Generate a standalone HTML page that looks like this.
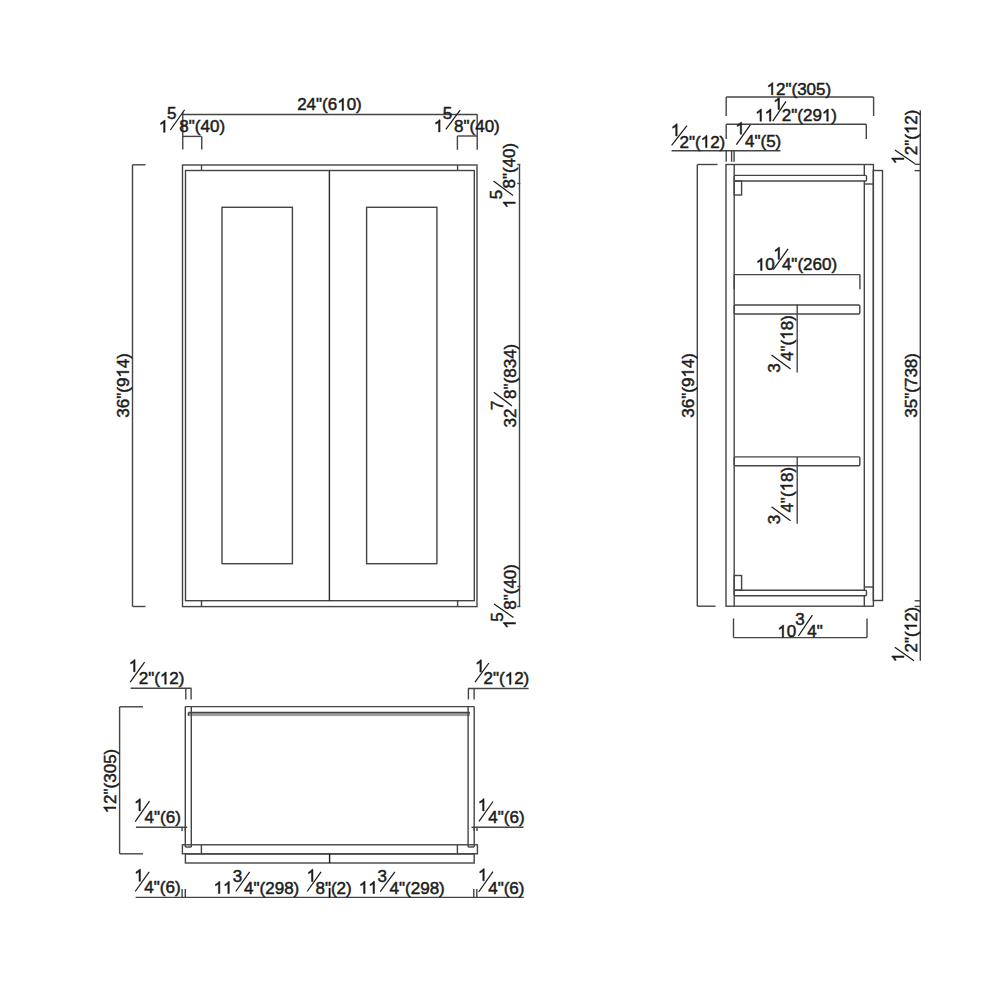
<!DOCTYPE html>
<html><head><meta charset="utf-8"><style>
html,body{margin:0;padding:0;background:#fff;}
svg{display:block;}
text{font-family:"Liberation Sans",sans-serif;font-size:17.0px;fill:#1c1c1c;stroke:#1c1c1c;stroke-width:0.5;font-kerning:none;}
.g1{fill:#1c1c1c;stroke:#1c1c1c;stroke-width:0.5;}
.s{stroke:#1c1c1c;stroke-width:1.25;}
</style></head><body>
<svg width="1000" height="1000" viewBox="0 0 1000 1000">
<defs><path id="g1" class="g1" d="M6.33 0.00H4.84V-9.52C4.48 -9.18 4.01 -8.83 3.43 -8.49C2.85 -8.15 2.32 -7.93 1.85 -7.80V-9.28C2.69 -9.67 3.42 -10.14 4.05 -10.71C4.68 -11.27 5.13 -11.77 5.40 -12.17H6.33Z"/></defs>
<rect width="1000" height="1000" fill="#fff"/>
<g stroke="#444444" stroke-width="1.4" fill="none">
<line x1="182.6" y1="114.5" x2="477.4" y2="114.5"/>
<line x1="182.75" y1="112" x2="182.75" y2="149.5"/>
<line x1="201.75" y1="136.4" x2="201.75" y2="149.5"/>
<line x1="182.75" y1="136.4" x2="201.75" y2="136.4"/>
<line x1="477.2" y1="114.5" x2="477.2" y2="149.8"/>
<line x1="457.4" y1="136" x2="457.4" y2="149.8"/>
<line x1="457.4" y1="136" x2="477.2" y2="136"/>
<rect x="182.5" y="165.0" width="294.5" height="441.6" fill="none"/>
<rect x="185.5" y="170.5" width="288.8" height="430.2" fill="none"/>
<line x1="329.4" y1="170.5" x2="329.4" y2="600.7" stroke="#2a2a2a"/>
<line x1="201.5" y1="165" x2="201.5" y2="170.5"/>
<line x1="201.5" y1="600.7" x2="201.5" y2="606.6"/>
<line x1="457.6" y1="165" x2="457.6" y2="170.5"/>
<line x1="457.6" y1="600.7" x2="457.6" y2="606.6"/>
<rect x="222" y="207.3" width="70.4" height="356.4" fill="none"/>
<rect x="366.6" y="207.3" width="70.3" height="356.4" fill="none"/>
<line x1="132.5" y1="164.8" x2="132.5" y2="606.5"/>
<line x1="132.5" y1="164.8" x2="145.5" y2="164.8"/>
<line x1="132.5" y1="606.5" x2="145.5" y2="606.5"/>
<line x1="519.5" y1="164.5" x2="519.5" y2="606.5"/>
<line x1="517.3" y1="164.5" x2="520.3" y2="164.5"/>
<line x1="517.3" y1="183.5" x2="520.3" y2="183.5"/>
<line x1="517.3" y1="586.5" x2="520.3" y2="586.5"/>
<line x1="517.3" y1="606.5" x2="520.3" y2="606.5"/>
<text x="297.15" y="110.4">24"(6</text>
<use href="#g1" x="337.21" y="110.4"/>
<text x="346.66" y="110.4">0)</text>
<use href="#g1" x="158.75" y="132.3"/>
<text x="167.12" y="119.3">5</text>
<line class="s" x1="170.4" y1="130" x2="184.6" y2="109.75"/>
<text x="179.37" y="132.3">8"(40)</text>
<use href="#g1" x="433.75" y="131.9"/>
<text x="442.72" y="119.2">5</text>
<line class="s" x1="445.8" y1="129.4" x2="460.2" y2="110.2"/>
<text x="454.07" y="131.9">8"(40)</text>
<g transform="translate(128.9,417.65) rotate(-90)"><text x="0" y="0">36"(9</text><use href="#g1" x="40.06" y="0"/><text x="49.51" y="0">4)</text></g>
<g transform="translate(515.3,208.35) rotate(-90)"><use href="#g1" x="0" y="0"/></g>
<g transform="translate(502.0,199.18) rotate(-90)"><text x="0" y="0">5</text></g>
<line class="s" x1="513" y1="195.5" x2="493.5" y2="181"/>
<g transform="translate(515.3,188.53) rotate(-90)"><text x="0" y="0">8"(40)</text></g>
<g transform="translate(515.6,427.45) rotate(-90)"><text x="0" y="0">32</text></g>
<g transform="translate(502.6,410.07) rotate(-90)"><text x="0" y="0">7</text></g>
<line class="s" x1="512" y1="405.9" x2="493.8" y2="392.2"/>
<g transform="translate(515.6,398.93) rotate(-90)"><text x="0" y="0">8"(834)</text></g>
<g transform="translate(515.5,628.85) rotate(-90)"><use href="#g1" x="0" y="0"/></g>
<g transform="translate(502.5,621.68) rotate(-90)"><text x="0" y="0">5</text></g>
<line class="s" x1="513.5" y1="617.5" x2="494" y2="604"/>
<g transform="translate(515.5,609.73) rotate(-90)"><text x="0" y="0">8"(40)</text></g>
<line x1="726.2" y1="97.0" x2="873.6" y2="97.0"/>
<line x1="726.2" y1="97.0" x2="726.2" y2="116"/>
<line x1="873.6" y1="97.0" x2="873.6" y2="116"/>
<line x1="726.2" y1="124.3" x2="866.3" y2="124.3"/>
<line x1="726.2" y1="124.3" x2="726.2" y2="139"/>
<line x1="866.3" y1="124.3" x2="866.3" y2="139"/>
<line x1="671.6" y1="150.8" x2="780.5" y2="150.8"/>
<line x1="726.2" y1="150.8" x2="726.2" y2="161.8"/>
<line x1="731.6" y1="150.8" x2="731.6" y2="161.8"/>
<line x1="734.1" y1="150.8" x2="734.1" y2="161.8"/>
<line x1="697.3" y1="164.5" x2="697.3" y2="606.2"/>
<line x1="697.3" y1="164.5" x2="717.5" y2="164.5"/>
<line x1="697.3" y1="606.2" x2="715.5" y2="606.2"/>
<rect x="726" y="164.5" width="147.4" height="441.7" fill="none"/>
<line x1="734.2" y1="164.5" x2="734.2" y2="606.2"/>
<rect x="734.2" y="175.4" width="132.3" height="5.6" rx="1.2" fill="none"/>
<line x1="864.3" y1="164.5" x2="864.3" y2="175.4"/>
<line x1="864.3" y1="181" x2="864.3" y2="590.2"/>
<line x1="864.3" y1="595.8" x2="864.3" y2="606.2"/>
<line x1="864.3" y1="184" x2="873.3" y2="184"/>
<line x1="864.3" y1="587" x2="873.3" y2="587"/>
<rect x="734.2" y="590.2" width="132.3" height="5.6" rx="1.2" fill="none"/>
<rect x="734.2" y="305" width="125.6" height="9" rx="1.2" fill="none"/>
<rect x="734.2" y="456.9" width="125.6" height="8.8" rx="1.2" fill="none"/>
<rect x="734.2" y="181" width="7.4" height="14" fill="none"/>
<rect x="734.2" y="575.5" width="7.4" height="14.7" fill="none"/>
<rect x="873.3" y="170.5" width="9.2" height="430.0" fill="none"/>
<line x1="734.2" y1="274.6" x2="859.9" y2="274.6"/>
<line x1="859.9" y1="274.6" x2="859.9" y2="289.2"/>
<line x1="734.2" y1="274.6" x2="734.2" y2="289.2"/>
<line x1="797.2" y1="304.4" x2="797.2" y2="372.4"/>
<line x1="797.2" y1="456.9" x2="797.2" y2="523.7"/>
<line x1="733.5" y1="637.6" x2="867" y2="637.6"/>
<line x1="733.5" y1="618.5" x2="733.5" y2="637.6"/>
<line x1="867" y1="618.5" x2="867" y2="637.6"/>
<line x1="920.3" y1="110.3" x2="920.3" y2="660.8"/>
<line x1="914.6" y1="164.3" x2="920.3" y2="164.3"/>
<line x1="914.6" y1="170.6" x2="920.3" y2="170.6"/>
<line x1="914.6" y1="600.8" x2="920.3" y2="600.8"/>
<line x1="914.6" y1="606.4" x2="920.3" y2="606.4"/>
<use href="#g1" x="766.55" y="94.8"/>
<text x="776.0" y="94.8">2"(305)</text>
<use href="#g1" x="755.15" y="121.2"/>
<use href="#g1" x="764.6" y="121.2"/>
<use href="#g1" x="773.15" y="109.6"/>
<line class="s" x1="772.8" y1="121.2" x2="786" y2="101.4"/>
<text x="781.85" y="121.2">2"(29</text>
<use href="#g1" x="821.91" y="121.2"/>
<text x="831.36" y="121.2">)</text>
<use href="#g1" x="670.85" y="136"/>
<line class="s" x1="671.6" y1="145.4" x2="687" y2="125.6"/>
<text x="679.55" y="147.6">2"(</text>
<use href="#g1" x="700.7" y="147.6"/>
<text x="710.15" y="147.6">2)</text>
<use href="#g1" x="735.35" y="134.3"/>
<line class="s" x1="736.4" y1="144.7" x2="750.3" y2="124.9"/>
<text x="745.01" y="146.6">4"(5)</text>
<use href="#g1" x="755.75" y="270.4"/>
<text x="765.2" y="270.4">0</text>
<use href="#g1" x="773.25" y="259.3"/>
<line class="s" x1="773.2" y1="269.7" x2="788.1" y2="248.9"/>
<text x="781.91" y="270.4">4"(260)</text>
<use href="#g1" x="777.35" y="637.2"/>
<text x="786.8" y="637.2">0</text>
<text x="795.35" y="624.8">3</text>
<line class="s" x1="798.4" y1="636" x2="812.4" y2="615.2"/>
<text x="807.21" y="637.2">4"</text>
<g transform="translate(693.9,417.65) rotate(-90)"><text x="0" y="0">36"(9</text><use href="#g1" x="40.06" y="0"/><text x="49.51" y="0">4)</text></g>
<g transform="translate(916.9,417.65) rotate(-90)"><text x="0" y="0">35"(738)</text></g>
<g transform="translate(903.9,164.35) rotate(-90)"><use href="#g1" x="0" y="0"/></g>
<line class="s" x1="914.7" y1="163.4" x2="894.9" y2="149.9"/>
<g transform="translate(916.9,155.25) rotate(-90)"><text x="0" y="0">2"(</text><use href="#g1" x="21.15" y="0"/><text x="30.6" y="0">2)</text></g>
<g transform="translate(904.0,662.25) rotate(-90)"><use href="#g1" x="0" y="0"/></g>
<line class="s" x1="914" y1="660.8" x2="894.8" y2="647.2"/>
<g transform="translate(916.8,652.45) rotate(-90)"><text x="0" y="0">2"(</text><use href="#g1" x="21.15" y="0"/><text x="30.6" y="0">2)</text></g>
<g transform="translate(780.4,372.65) rotate(-90)"><text x="0" y="0">3</text></g>
<line class="s" x1="790.6" y1="369" x2="771.5" y2="355"/>
<g transform="translate(792.7,360.89) rotate(-90)"><text x="0" y="0">4"(</text><use href="#g1" x="21.15" y="0"/><text x="30.6" y="0">8)</text></g>
<g transform="translate(780.4,524.35) rotate(-90)"><text x="0" y="0">3</text></g>
<line class="s" x1="790.6" y1="520.7" x2="771.5" y2="506.7"/>
<g transform="translate(792.7,512.59) rotate(-90)"><text x="0" y="0">4"(</text><use href="#g1" x="21.15" y="0"/><text x="30.6" y="0">8)</text></g>
<line x1="130.6" y1="688.2" x2="191.4" y2="688.2"/>
<line x1="185.8" y1="688.2" x2="185.8" y2="699.4"/>
<line x1="191.1" y1="688.2" x2="191.1" y2="699.4"/>
<line x1="467.9" y1="688.5" x2="528.6" y2="688.5"/>
<line x1="468.4" y1="688.5" x2="468.4" y2="699.4"/>
<line x1="474.1" y1="688.5" x2="474.1" y2="699.4"/>
<line x1="119.6" y1="706.8" x2="119.6" y2="853.8"/>
<line x1="119.6" y1="706.8" x2="143" y2="706.8"/>
<line x1="119.6" y1="853.8" x2="143" y2="853.8"/>
<rect x="188.4" y="712.9" width="281.6" height="3.2" fill="#a0a0a0" stroke="none"/>
<line x1="188.4" y1="712.5" x2="470" y2="712.5"/>
<line x1="188.4" y1="712.5" x2="188.4" y2="715.8"/>
<line x1="185.3" y1="706.6" x2="474.2" y2="706.6"/>
<line x1="185.3" y1="706.6" x2="185.3" y2="847"/>
<line x1="474.2" y1="706.6" x2="474.2" y2="847"/>
<line x1="191.3" y1="706.6" x2="191.3" y2="847"/>
<line x1="468.1" y1="706.6" x2="468.1" y2="847"/>
<line x1="185.3" y1="847" x2="191.3" y2="847"/>
<line x1="468.1" y1="847" x2="474.2" y2="847"/>
<rect x="182.4" y="844.8" width="295.0" height="9.0" fill="none"/>
<line x1="201.4" y1="844.8" x2="201.4" y2="853.8"/>
<line x1="457.4" y1="844.8" x2="457.4" y2="853.8"/>
<rect x="185.4" y="854.0" width="288.8" height="9.0" fill="none"/>
<line x1="329.6" y1="854.0" x2="329.6" y2="863" stroke="#1a1a1a"/>
<line x1="135.9" y1="827.2" x2="187.2" y2="827.2"/>
<line x1="182" y1="827.2" x2="182" y2="831"/>
<line x1="185.3" y1="827.2" x2="185.3" y2="831"/>
<line x1="471.5" y1="827.2" x2="523.5" y2="827.2"/>
<line x1="474.1" y1="827.2" x2="474.1" y2="831"/>
<line x1="477" y1="827.2" x2="477" y2="831"/>
<line x1="135.6" y1="897.4" x2="523.8" y2="897.4"/>
<line x1="182.1" y1="889" x2="182.1" y2="897.4"/>
<line x1="185.3" y1="889" x2="185.3" y2="897.4"/>
<line x1="473.8" y1="889" x2="473.8" y2="897.4"/>
<line x1="476.8" y1="889" x2="476.8" y2="897.4"/>
<line x1="329.6" y1="888" x2="329.6" y2="897.4" stroke="#111" stroke-width="1.8"/>
<use href="#g1" x="128.75" y="671.8"/>
<line class="s" x1="130.2" y1="682.2" x2="144.6" y2="662.2"/>
<text x="138.75" y="684.2">2"(</text>
<use href="#g1" x="159.9" y="684.2"/>
<text x="169.35" y="684.2">2)</text>
<use href="#g1" x="475.05" y="672"/>
<line class="s" x1="475" y1="682.1" x2="488.9" y2="663"/>
<text x="483.55" y="684.4">2"(</text>
<use href="#g1" x="504.7" y="684.4"/>
<text x="514.15" y="684.4">2)</text>
<use href="#g1" x="134.05" y="810.9"/>
<line class="s" x1="135.2" y1="821.7" x2="149.5" y2="801.2"/>
<text x="144.61" y="823.3">4"(6)</text>
<use href="#g1" x="477.75" y="810.9"/>
<line class="s" x1="479" y1="821.3" x2="493" y2="801.5"/>
<text x="488.31" y="823.0">4"(6)</text>
<use href="#g1" x="134.15" y="881.3"/>
<line class="s" x1="135.2" y1="891.5" x2="149.2" y2="871.9"/>
<text x="144.31" y="893.2">4"(6)</text>
<use href="#g1" x="213.55" y="893.6"/>
<use href="#g1" x="223.0" y="893.6"/>
<text x="232.65" y="881.7">3</text>
<line class="s" x1="235.7" y1="891.5" x2="249.7" y2="871.9"/>
<text x="244.11" y="893.6">4"(298)</text>
<use href="#g1" x="306.65" y="881.5"/>
<line class="s" x1="307.1" y1="891.5" x2="321.1" y2="871.9"/>
<text x="315.47" y="893.5">8"(2)</text>
<use href="#g1" x="358.75" y="893.5"/>
<use href="#g1" x="368.2" y="893.5"/>
<text x="377.45" y="881.5">3</text>
<line class="s" x1="380.2" y1="891.5" x2="394.9" y2="871.9"/>
<text x="389.61" y="893.5">4"(298)</text>
<use href="#g1" x="477.95" y="880.8"/>
<line class="s" x1="478.6" y1="892" x2="493" y2="871.6"/>
<text x="488.21" y="893.6">4"(6)</text>
<g transform="translate(115.9,813.35) rotate(-90)"><use href="#g1" x="0" y="0"/><text x="9.45" y="0">2"(305)</text></g>
</g>
</svg>
</body></html>
